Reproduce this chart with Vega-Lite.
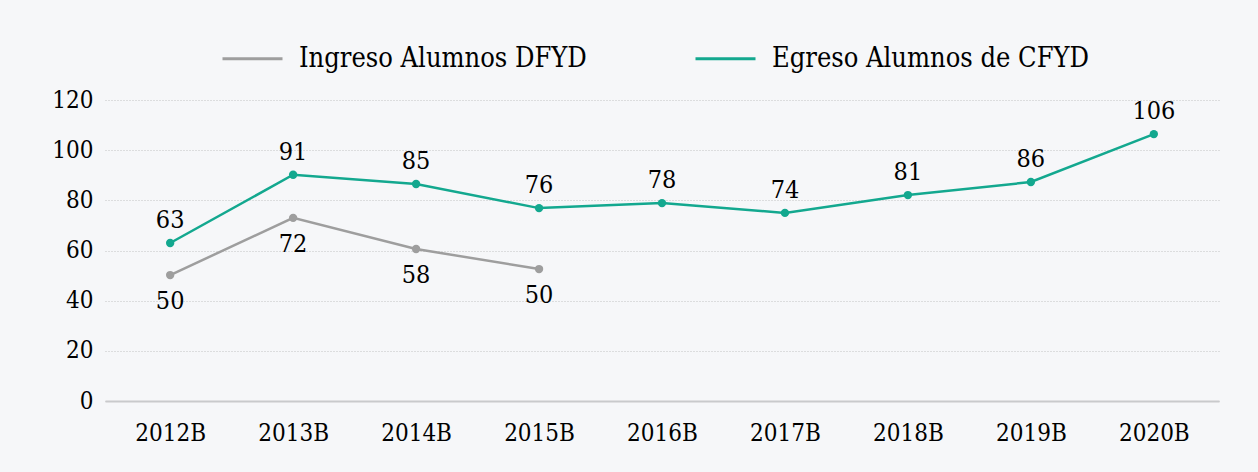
{
  "$schema": "https://vega.github.io/schema/vega-lite/v6.json",
  "width": 1114,
  "height": 301,
  "autosize": {"type": "none"},
  "padding": {"left": 105, "top": 100, "right": 39, "bottom": 71},
  "background": "#f6f7f9",
  "config": {
    "view": {"stroke": null},
    "font": "DejaVu Serif Condensed, Liberation Serif",
    "text": {"font": "DejaVu Serif Condensed, Liberation Serif"}
  },
  "data": {
    "values": [
      {"serie": "Ingreso Alumnos DFYD", "periodo": "2012B", "valor": 50.2, "etiqueta": "50"},
      {"serie": "Ingreso Alumnos DFYD", "periodo": "2013B", "valor": 73, "etiqueta": "72"},
      {"serie": "Ingreso Alumnos DFYD", "periodo": "2014B", "valor": 60.6, "etiqueta": "58"},
      {"serie": "Ingreso Alumnos DFYD", "periodo": "2015B", "valor": 52.6, "etiqueta": "50"},
      {"serie": "Egreso Alumnos de CFYD", "periodo": "2012B", "valor": 63, "etiqueta": "63"},
      {"serie": "Egreso Alumnos de CFYD", "periodo": "2013B", "valor": 90.2, "etiqueta": "91"},
      {"serie": "Egreso Alumnos de CFYD", "periodo": "2014B", "valor": 86.5, "etiqueta": "85"},
      {"serie": "Egreso Alumnos de CFYD", "periodo": "2015B", "valor": 76.9, "etiqueta": "76"},
      {"serie": "Egreso Alumnos de CFYD", "periodo": "2016B", "valor": 78.9, "etiqueta": "78"},
      {"serie": "Egreso Alumnos de CFYD", "periodo": "2017B", "valor": 75, "etiqueta": "74"},
      {"serie": "Egreso Alumnos de CFYD", "periodo": "2018B", "valor": 82.1, "etiqueta": "81"},
      {"serie": "Egreso Alumnos de CFYD", "periodo": "2019B", "valor": 87.3, "etiqueta": "86"},
      {"serie": "Egreso Alumnos de CFYD", "periodo": "2020B", "valor": 106.4, "etiqueta": "106"}
    ]
  },
  "encoding": {
    "x": {
      "field": "periodo", "type": "ordinal",
      "scale": {"type": "point", "padding": 0.53},
      "axis": {
        "title": null, "labelAngle": 0, "ticks": false,
        "domainColor": "#c9cacc", "domainWidth": 2,
        "labelFontSize": 24, "labelColor": "#000", "labelPadding": 20
      }
    },
    "y": {
      "field": "valor", "type": "quantitative",
      "scale": {"domain": [0, 120], "nice": false},
      "axis": {
        "title": null, "values": [0, 20, 40, 60, 80, 100, 120],
        "domain": false, "ticks": false,
        "labelFontSize": 24, "labelColor": "#000", "labelPadding": 12,
        "gridColor": "#c2c2c2", "gridDash": [1, 2], "gridWidth": 1
      }
    },
    "color": {
      "field": "serie", "type": "nominal",
      "scale": {"domain": ["Ingreso Alumnos DFYD", "Egreso Alumnos de CFYD"], "range": ["#9e9e9e", "#13a88f"]},
      "legend": {
        "title": null, "orient": "none", "direction": "horizontal",
        "legendX": 116, "legendY": -73,
        "symbolType": "stroke", "symbolSize": 3600, "symbolStrokeWidth": 3,
        "labelFontSize": 27, "labelColor": "#000", "labelOffset": 15,
        "columnPadding": 102, "labelLimit": 500
      }
    }
  },
  "layer": [
    {"mark": {"type": "line", "strokeWidth": 2.5}},
    {"mark": {"type": "point", "filled": true, "opacity": 1, "size": 70}},
    {
      "transform": [{"filter": "datum.serie == 'Egreso Alumnos de CFYD'"}],
      "mark": {"type": "text", "fontSize": 25, "dy": -23},
      "encoding": {"text": {"field": "etiqueta"}, "color": {"value": "#000"}}
    },
    {
      "transform": [{"filter": "datum.serie == 'Ingreso Alumnos DFYD'"}],
      "mark": {"type": "text", "fontSize": 25, "dy": 26},
      "encoding": {"text": {"field": "etiqueta"}, "color": {"value": "#000"}}
    }
  ]
}
